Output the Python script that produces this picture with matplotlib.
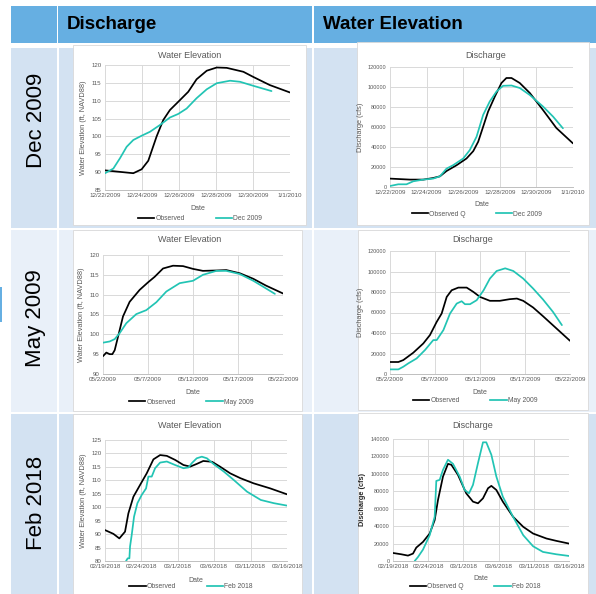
import matplotlib
matplotlib.use("Agg")
import matplotlib.pyplot as plt
from matplotlib.patches import Rectangle
from matplotlib.lines import Line2D

W, H = 596, 594
plt.rcParams['font.family'] = ['Liberation Sans', 'DejaVu Sans']

# ---------------- data ----------------
# Dec 2009 water elevation (days since 12/22/2009)
dec_we_obs_x = [0, 1.53, 1.98, 2.34, 2.79, 3.15, 3.51, 3.96, 4.5, 4.95, 5.5, 6.04, 6.58, 7.48, 8.0, 8.9, 10]
dec_we_obs_y = [90.5, 89.7, 90.8, 93.2, 100, 104.6, 107.4, 109.7, 112.5, 116, 118.4, 119.3, 119.2, 118.1, 116.7, 114.4, 112.3]
dec_we_sim_x = [0, 0.45, 0.81, 1.17, 1.53, 1.98, 2.43, 2.97, 3.51, 3.96, 4.41, 4.95, 5.5, 6.04, 6.76, 7.3, 8.0, 9.0]
dec_we_sim_y = [89.7, 91, 93.9, 97.1, 99, 100.2, 101.3, 103.2, 105.3, 106.3, 107.8, 110.7, 113.2, 114.9, 115.6, 115.3, 114.2, 112.7]

# Dec 2009 discharge
dec_q_obs_x = [0, 1.09, 1.82, 2.36, 2.73, 3.09, 3.64, 4.18, 4.55, 4.82, 5.09, 5.36, 5.73, 6.09, 6.36, 6.64, 7.09, 7.64, 8.36, 9.09, 10]
dec_q_obs_y = [8400, 7400, 7400, 9000, 10700, 16000, 21800, 28500, 35900, 45300, 60300, 75400, 90500, 104000, 109000, 109000, 104000, 94000, 77000, 59000, 43600]
dec_q_sim_x = [0, 0.45, 0.9, 1.27, 1.82, 2.36, 2.73, 3.09, 3.45, 4.0, 4.36, 4.73, 5.09, 5.45, 5.82, 6.18, 6.64, 7.09, 7.64, 8.36, 8.91, 9.45]
dec_q_sim_y = [1000, 2700, 2700, 5700, 7400, 8400, 10700, 18400, 21800, 28500, 36900, 50300, 72100, 85500, 95500, 101200, 101500, 99000, 92000, 80500, 70400, 58700]

# May 2009 water elevation (days since 05/2/2009)
may_we_obs_x = [0, 0.37, 0.74, 1.04, 1.3, 1.67, 2.22, 2.96, 4.07, 5.0, 5.74, 6.67, 7.78, 8.89, 10.0, 11.1, 12.6, 13.7, 15.2, 16.7, 18.1, 20]
may_we_obs_y = [94.5, 95.4, 95.0, 95.0, 96.0, 99.4, 104.5, 108.2, 111.2, 113.1, 114.5, 116.6, 117.3, 117.2, 116.5, 116.0, 116.1, 116.2, 115.4, 114.0, 112.3, 110.3]
may_we_sim_x = [0, 0.74, 1.3, 1.85, 2.59, 3.7, 4.81, 5.93, 7.04, 8.52, 10.0, 11.1, 12.6, 13.7, 15.2, 16.7, 17.8, 19.1]
may_we_sim_y = [97.9, 98.2, 98.8, 100.3, 102.8, 105.1, 106.1, 108.1, 110.8, 112.9, 113.5, 115.0, 116.0, 116.0, 115.2, 113.5, 112.0, 110.2]

# May 2009 discharge
may_q_obs_x = [0, 0.93, 1.48, 2.59, 3.7, 4.44, 5.19, 5.74, 6.3, 6.85, 7.59, 8.52, 9.26, 10.0, 11.1, 12.2, 13.3, 14.1, 14.8, 15.9, 17.0, 18.5, 20]
may_q_obs_y = [11700, 11700, 13600, 20800, 29800, 38000, 50900, 59000, 75200, 81700, 84300, 84300, 80100, 75200, 71400, 71400, 73000, 73600, 71400, 64900, 56400, 44400, 32400]
may_q_sim_x = [0, 0.93, 1.48, 2.04, 2.96, 3.89, 4.81, 5.19, 5.93, 6.67, 7.41, 7.96, 8.33, 8.89, 9.63, 10.4, 11.1, 11.85, 12.8, 13.7, 14.8, 15.9, 17.0, 18.1, 19.1]
may_q_sim_y = [4500, 4500, 7100, 10400, 15200, 23400, 33100, 33100, 42800, 59000, 68700, 71000, 68100, 68100, 72000, 81700, 93100, 100500, 103100, 100500, 93100, 83400, 72700, 60700, 47700]

# Feb 2018 water elevation (days since 02/19/2018)
feb_we_obs_x = [0, 1.15, 1.97, 2.75, 3.21, 3.9, 4.82, 5.73, 6.65, 7.57, 8.49, 9.63, 10.78, 11.7, 12.6, 13.5, 14.7, 15.8, 17.2, 18.6, 20.4, 22.7, 25]
feb_we_obs_y = [91.5, 90.1, 88.4, 90.9, 97.7, 103.9, 108.3, 112.6, 117.8, 119.4, 119.1, 117.6, 115.7, 115.1, 116.1, 117.2, 116.9, 115.1, 112.6, 110.8, 108.9, 107.0, 104.8]
feb_we_sim_x = [2.89, 3.12, 3.35, 3.44, 3.67, 3.99, 4.45, 5.05, 5.64, 5.96, 6.42, 6.88, 7.57, 8.49, 9.63, 10.78, 11.47, 11.93, 12.6, 13.3, 14.0, 14.9, 16.3, 17.7, 19.5, 21.4, 23.2, 25]
feb_we_sim_y = [80.0, 81.0, 81.0, 85.4, 89.7, 96.5, 101.5, 104.6, 107.0, 111.4, 111.4, 114.5, 116.6, 117.0, 115.7, 114.5, 114.8, 116.4, 118.2, 118.8, 118.2, 116.1, 113.3, 110.1, 105.8, 102.7, 101.5, 100.6]

# Feb 2018 discharge
feb_q_obs_x = [0, 1.18, 2.13, 2.84, 3.31, 4.26, 5.21, 5.92, 6.39, 7.1, 7.81, 8.29, 9.23, 10.4, 11.36, 12.07, 12.78, 13.5, 13.97, 14.68, 15.6, 17.05, 18.5, 19.9, 21.8, 23.2, 25]
feb_q_obs_y = [9200, 7700, 6200, 8500, 15400, 21900, 31500, 46900, 70000, 96900, 111500, 110400, 98800, 77700, 68100, 66200, 71900, 83500, 86200, 81500, 68100, 50800, 39200, 31500, 25800, 23100, 20000]
feb_q_sim_x = [3.08, 3.55, 4.26, 5.21, 5.92, 6.15, 6.63, 7.1, 7.81, 8.52, 9.47, 10.18, 10.8, 11.36, 12.07, 12.78, 13.25, 13.97, 14.68, 15.6, 17.05, 18.5, 19.9, 21.3, 23.2, 25]
feb_q_sim_y = [0, 4600, 13100, 29600, 50800, 91900, 93100, 104600, 116200, 111500, 96900, 81500, 77700, 87300, 112300, 136200, 136200, 121900, 96900, 73800, 50800, 29600, 16900, 10400, 7700, 5800]

dec_ticks = [0, 2, 4, 6, 8, 10]
dec_labels = ['12/22/2009', '12/24/2009', '12/26/2009', '12/28/2009', '12/30/2009', '1/1/2010']
may_ticks = [0, 5, 10, 15, 20]
may_labels = ['05/2/2009', '05/7/2009', '05/12/2009', '05/17/2009', '05/22/2009']
feb_ticks = [0, 5, 10, 15, 20, 25]
feb_labels = ['02/19/2018', '02/24/2018', '03/1/2018', '03/6/2018', '03/11/2018', '03/16/2018']

row_labels = ['Dec 2009', 'May 2009', 'Feb 2018']
col_headers = ['Discharge', 'Water Elevation']

# ---------------- styling ----------------
HEADER = '#66AFE2'
ROW_DARK = '#D3E2F2'
ROW_LIGHT = '#E9F0F9'
OBS_C = '#000000'
SIM_C = '#22C4B4'
GRID_C = '#D9D9D9'
TXT_C = '#595959'

fig = plt.figure(figsize=(W / 100, H / 100), dpi=100)
fig.patch.set_facecolor('white')


def rect(x0, y0, x1, y1, **kw):
    fig.patches.append(Rectangle((x0 / W, 1 - y1 / H), (x1 - x0) / W, (y1 - y0) / H,
                                 transform=fig.transFigure, figure=fig, zorder=-10, **kw))


def ftext(x, y, s, **kw):
    fig.text(x / W, 1 - y / H, s, **kw)


# table background
rect(11, 6, 596, 43, facecolor=HEADER, edgecolor='none')
rect(57, 6, 58, 43, facecolor='white', edgecolor='none')
rect(312, 6, 314, 43, facecolor='white', edgecolor='none')
rows = [(48, 228, ROW_DARK), (230, 412, ROW_LIGHT), (414, 594, ROW_DARK)]
for (y0, y1, c) in rows:
    rect(11, y0, 57, y1, facecolor=c, edgecolor='none')
    rect(59, y0, 312, y1, facecolor=c, edgecolor='none')
    rect(314, y0, 596, y1, facecolor=c, edgecolor='none')
rect(0, 287, 2, 322, facecolor=HEADER, edgecolor='none')

ftext(67, 29, col_headers[0], fontsize=13.5, fontweight='bold', color='black', va='baseline')
ftext(323, 29, col_headers[1], fontsize=13.5, fontweight='bold', color='black', va='baseline')

for lbl, yc in zip(row_labels, [120, 318, 503]):
    ftext(36, yc, lbl, fontsize=16, rotation=90, ha='center', va='center', color='black')


def chart(box, plot, title, title_xy, xs_obs, ys_obs, xs_sim, ys_sim, xticks, xlabels,
          yticks, ylabel, date_y, leg_xy, leg_labels, ylabel_bold=False, ytick_fs=4.4,
          ylabel_fs=5.3):
    bx0, by0, bx1, by1 = box
    rect(bx0, by0, bx1, by1, facecolor='white', edgecolor='#D9D9D9', linewidth=0.6)
    px0, py0, px1, py1 = plot
    ax = fig.add_axes([px0 / W, 1 - py1 / H, (px1 - px0) / W, (py1 - py0) / H])
    ax.set_facecolor('white')
    ax.plot(xs_obs, ys_obs, color=OBS_C, lw=1.25, solid_joinstyle='round', solid_capstyle='round')
    ax.plot(xs_sim, ys_sim, color=SIM_C, lw=1.25, solid_joinstyle='round', solid_capstyle='round')
    ax.set_xlim(xticks[0], xticks[-1])
    ax.set_ylim(yticks[0], yticks[-1])
    ax.set_xticks(xticks)
    ax.set_xticklabels(xlabels, fontsize=4.5, color=TXT_C)
    ax.set_yticks(yticks)
    ax.set_yticklabels([str(v) for v in yticks], fontsize=ytick_fs, color=TXT_C)
    ax.tick_params(length=0, pad=2.5)
    ax.grid(True, color=GRID_C, lw=0.7)
    ax.set_axisbelow(True)
    for s in ['top', 'right', 'left']:
        ax.spines[s].set_visible(False)
    ax.spines['bottom'].set_color('#BFBFBF')
    ax.spines['bottom'].set_linewidth(0.7)
    ax.set_ylabel(ylabel, fontsize=ylabel_fs, color=TXT_C if not ylabel_bold else '#262626',
                  fontweight='bold' if ylabel_bold else 'normal', labelpad=3)
    ftext(title_xy[0], title_xy[1], title, fontsize=6.5, color=TXT_C, ha='center', va='center')
    ftext((px0 + px1) / 2, date_y, 'Date', fontsize=5, color=TXT_C, ha='center', va='center')
    handles = [Line2D([], [], color=OBS_C, lw=1.25), Line2D([], [], color=SIM_C, lw=1.25)]
    fig.legend(handles, leg_labels, loc='center', bbox_to_anchor=(leg_xy[0] / W, 1 - leg_xy[1] / H),
               ncol=2, frameon=False, fontsize=4.9, handlelength=2.4, handletextpad=0.15,
               columnspacing=4.5, labelcolor=TXT_C, borderpad=0)
    return ax


we_dec_ticks = [85, 90, 95, 100, 105, 110, 115, 120]
q_ticks_120 = [0, 20000, 40000, 60000, 80000, 100000, 120000]
we_may_ticks = [90, 95, 100, 105, 110, 115, 120]
we_feb_ticks = [80, 85, 90, 95, 100, 105, 110, 115, 120, 125]
q_ticks_140 = [0, 20000, 40000, 60000, 80000, 100000, 120000, 140000]

chart((73, 45, 306, 225), (105, 65, 290, 190), 'Water Elevation', (190, 56),
      dec_we_obs_x, dec_we_obs_y, dec_we_sim_x, dec_we_sim_y, dec_ticks, dec_labels,
      we_dec_ticks, 'Water Elevation (ft, NAVD88)', 209, (200, 219), ['Observed', 'Dec 2009'])
chart((357, 42, 589, 225), (390, 67, 573, 187), 'Discharge', (486, 55),
      dec_q_obs_x, dec_q_obs_y, dec_q_sim_x, dec_q_sim_y, dec_ticks, dec_labels,
      q_ticks_120, 'Discharge (cfs)', 205, (477, 214), ['Observed Q', 'Dec 2009'], ytick_fs=4.0)
chart((73, 230, 302, 411), (103, 255, 283, 374), 'Water Elevation', (190, 240),
      may_we_obs_x, may_we_obs_y, may_we_sim_x, may_we_sim_y, may_ticks, may_labels,
      we_may_ticks, 'Water Elevation (ft, NAVD88)', 393, (191, 402), ['Observed', 'May 2009'])
chart((358, 230, 588, 410), (390, 251, 570, 374), 'Discharge', (473, 240),
      may_q_obs_x, may_q_obs_y, may_q_sim_x, may_q_sim_y, may_ticks, may_labels,
      q_ticks_120, 'Discharge (cfs)', 393, (475, 401), ['Observed', 'May 2009'], ytick_fs=4.0)
chart((73, 414, 302, 594), (105, 440, 287, 561), 'Water Elevation', (190, 426),
      feb_we_obs_x, feb_we_obs_y, feb_we_sim_x, feb_we_sim_y, feb_ticks, feb_labels,
      we_feb_ticks, 'Water Elevation (ft, NAVD88)', 581, (191, 587), ['Observed', 'Feb 2018'])
chart((358, 413, 588, 594), (393, 439, 569, 561), 'Discharge', (473, 426),
      feb_q_obs_x, feb_q_obs_y, feb_q_sim_x, feb_q_sim_y, feb_ticks, feb_labels,
      q_ticks_140, 'Discharge (cfs)', 579, (475, 587), ['Observed Q', 'Feb 2018'],
      ylabel_bold=True, ytick_fs=4.0)

fig.savefig('out.png', dpi=100, facecolor='white')
